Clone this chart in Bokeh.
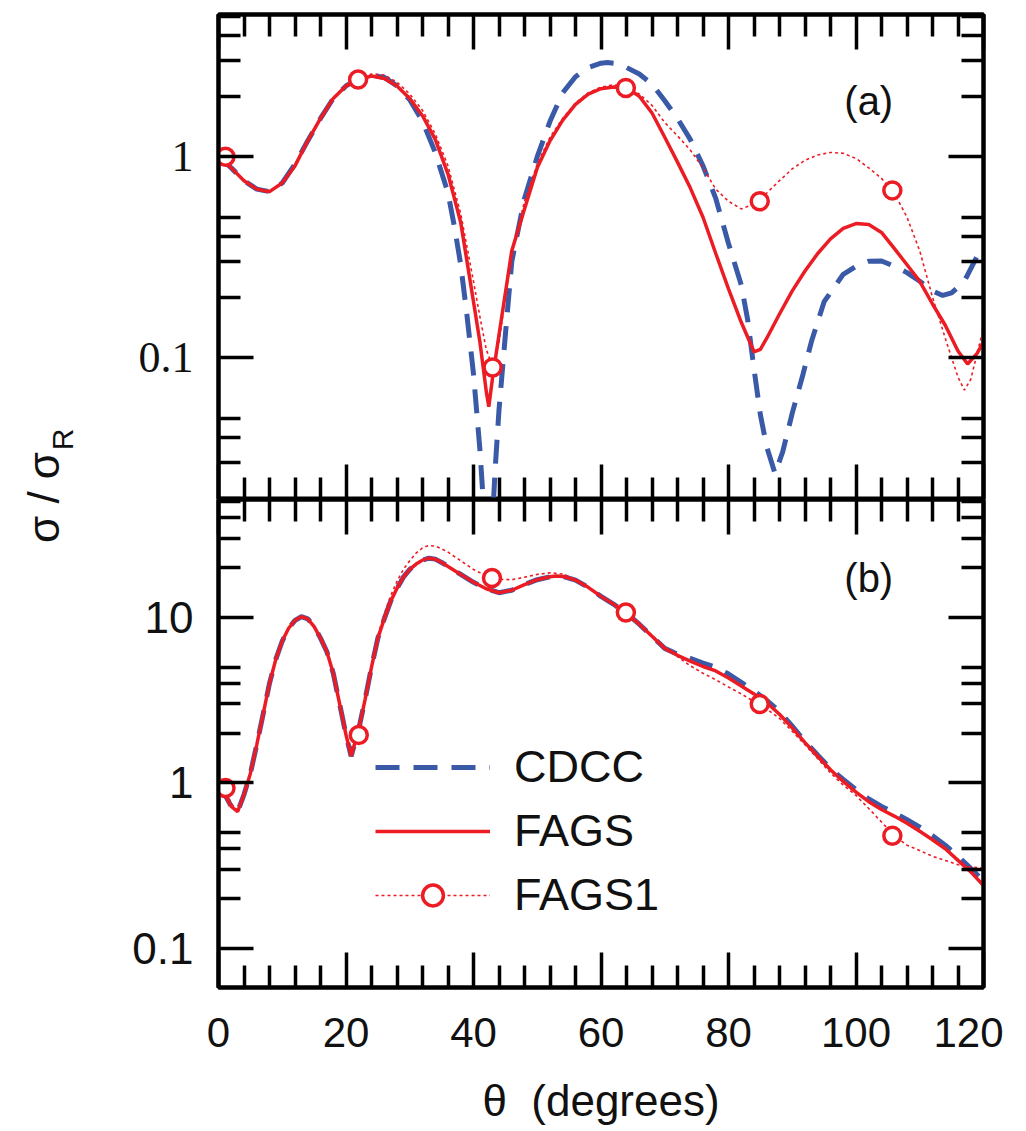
from math import pi
from bokeh.plotting import figure
from bokeh.layouts import row, column
from bokeh.models import (Range1d, LinearAxis, LogAxis, FixedTicker,
                          CustomJSTickFormatter, Label, Legend, LegendItem)
from bokeh.embed import file_html
from bokeh.resources import INLINE

# ---------------- data ----------------
x_major = [0, 20, 40, 60, 80, 100, 120]
x_minor = [4, 8, 12, 16, 24, 28, 32, 36, 44, 48, 52, 56, 64, 68, 72, 76,
           84, 88, 92, 96, 104, 108, 112, 116]
y_major = [0.01, 0.1, 1, 10, 100]
y_minor = [0.02, 0.03, 0.04, 0.05, 0.2, 0.3, 0.4, 0.5, 2, 3, 4, 5, 20, 30, 40, 50]

# panel (a)
a_cdcc_theta = [0, 2, 4, 6, 8, 10, 12, 14, 16, 18, 20, 22, 24, 26, 28, 30, 32, 34, 36,
                37, 38, 39, 40, 41, 41.6, 42.2, 42.8, 43.4, 44, 45, 46, 48, 50, 52, 54,
                56, 58, 60, 61, 62, 64, 66, 68, 70, 72, 74, 76, 78, 80, 82, 83, 84, 85,
                86, 87.3, 88.5, 90, 91.7, 93, 95, 98, 100, 102, 104, 106, 108, 110, 112,
                113.6, 115, 117, 119, 120]
a_cdcc = [1.0, 0.88, 0.76, 0.69, 0.67, 0.74, 0.92, 1.2, 1.55, 1.95, 2.25, 2.45, 2.55,
          2.48, 2.25, 1.92, 1.5, 1.05, 0.66, 0.45, 0.29, 0.16, 0.083, 0.035, 0.018,
          0.008, 0.012, 0.028, 0.055, 0.13, 0.3, 0.62, 1.0, 1.5, 2.08, 2.5, 2.78, 2.92,
          2.94, 2.92, 2.78, 2.58, 2.3, 1.9, 1.55, 1.22, 0.9, 0.62, 0.37, 0.23, 0.155,
          0.088, 0.052, 0.036, 0.0265, 0.034, 0.053, 0.083, 0.12, 0.19, 0.26, 0.285,
          0.302, 0.303, 0.285, 0.265, 0.24, 0.215, 0.204, 0.21, 0.24, 0.32, 0.35]

a_fags_theta = [0, 2, 4, 6, 8, 10, 12, 14, 16, 18, 20, 22, 24, 26, 28, 30, 32, 34, 36, 38,
                40, 41, 42, 42.4, 43, 44, 45, 46, 48, 50, 52, 54, 56, 58, 60, 62, 64, 66,
                68, 70, 72, 74, 76, 78, 80, 82, 84, 85, 86, 88, 90, 92, 94, 96, 98, 100,
                102, 104, 106, 108, 110, 112, 114, 116, 117.5, 119, 120]
a_fags = [1.0, 0.88, 0.76, 0.69, 0.67, 0.74, 0.90, 1.2, 1.55, 1.95, 2.25, 2.42, 2.52,
          2.45, 2.25, 1.95, 1.6, 1.22, 0.82, 0.47, 0.19, 0.12, 0.068, 0.057, 0.08, 0.13,
          0.21, 0.34, 0.55, 0.88, 1.2, 1.52, 1.82, 2.05, 2.18, 2.22, 2.2, 2.0, 1.65, 1.25,
          0.94, 0.70, 0.50, 0.33, 0.22, 0.15, 0.107, 0.11, 0.125, 0.165, 0.215, 0.27,
          0.33, 0.39, 0.44, 0.465, 0.46, 0.42, 0.35, 0.29, 0.24, 0.185, 0.145, 0.108,
          0.093, 0.105, 0.12]

a_fags1_theta = [0, 2, 4, 6, 8, 10, 12, 14, 16, 18, 20, 22, 24, 26, 28, 30, 32, 34, 36, 38,
                 40, 41, 42, 43, 44, 45, 46, 48, 50, 52, 54, 56, 58, 60, 62, 64, 66, 68,
                 70, 72, 74, 76, 78, 80, 82, 84, 86, 88, 90, 92, 94, 96, 98, 100, 102,
                 104, 106, 108, 110, 112, 114, 115, 116, 117, 118, 119, 120]
a_fags1 = [1.0, 0.88, 0.76, 0.69, 0.67, 0.74, 0.92, 1.2, 1.56, 1.97, 2.28, 2.45, 2.58,
           2.55, 2.35, 2.05, 1.7, 1.3, 0.9, 0.52, 0.24, 0.16, 0.11, 0.09, 0.12, 0.2, 0.33,
           0.6, 0.92, 1.25, 1.55, 1.85, 2.08, 2.22, 2.28, 2.22, 2.05, 1.8, 1.48, 1.27,
           1.08, 0.88, 0.69, 0.6, 0.55, 0.58, 0.66, 0.76, 0.87, 0.96, 1.02, 1.05, 1.04,
           0.98, 0.88, 0.78, 0.66, 0.5, 0.34, 0.2, 0.125, 0.1, 0.08, 0.069, 0.078, 0.105,
           0.14]
a_pts_theta = [1.1, 21.9, 43.0, 63.9, 84.9, 105.7]
a_pts = [1.0, 2.42, 0.0895, 2.2, 0.60, 0.68]

# panel (b)
b_theta = [0, 1, 2, 3, 4, 5, 6, 7, 8, 9, 10, 11, 12, 13, 14, 15, 16, 17, 18, 19, 20,
           20.8, 21.5, 22.2, 23, 24, 25, 26, 27, 28, 29, 30, 31, 32, 33, 34, 35, 36,
           38, 40, 42, 44, 46, 48, 50, 52, 53, 54, 56, 58, 60, 62, 64, 66, 68, 70, 72,
           74, 76, 78, 80, 82, 84, 86, 88, 90, 92, 94, 96, 98, 100, 102, 104, 106, 108,
           110, 112, 114, 116, 118, 120]
b_cdcc = [0.97, 0.85, 0.72, 0.67, 0.85, 1.14, 1.7, 2.6, 4.0, 5.6, 7.2, 8.6, 9.6, 10.1,
          9.8, 8.8, 7.5, 6.2, 4.6, 3.0, 1.95, 1.45, 1.8, 2.3, 3.2, 5.0, 7.5, 9.8, 12.5,
          15, 17.5, 19.5, 21, 22.2, 22.8, 22.5, 21.5, 20.3, 18.2, 16.3, 14.9, 14.1,
          14.6, 15.8, 16.9, 17.6, 17.8, 17.7, 16.8, 15.2, 13.4, 12.0, 10.6, 9.1, 7.7,
          6.5, 6.0, 5.65, 5.3, 5.0, 4.55, 4.05, 3.6, 3.15, 2.7, 2.2, 1.78, 1.47, 1.22,
          1.05, 0.91, 0.8, 0.72, 0.66, 0.6, 0.54, 0.48, 0.42, 0.36, 0.305, 0.255]
b_fags = [0.97, 0.85, 0.72, 0.67, 0.85, 1.14, 1.7, 2.6, 4.0, 5.6, 7.2, 8.6, 9.6, 10.1,
          9.8, 8.8, 7.5, 6.2, 4.6, 3.0, 1.95, 1.45, 1.8, 2.3, 3.2, 5.0, 7.5, 9.8, 12.5,
          15, 17.5, 19.5, 21, 22.2, 22.8, 22.5, 21.5, 20.3, 18.2, 16.3, 14.9, 14.1,
          14.6, 15.8, 16.9, 17.6, 17.8, 17.7, 16.8, 15.2, 13.4, 12.0, 10.6, 9.1, 7.7,
          6.5, 5.9, 5.45, 5.05, 4.75, 4.3, 3.85, 3.45, 3.05, 2.6, 2.15, 1.75, 1.45, 1.2,
          1.02, 0.88, 0.77, 0.69, 0.63, 0.57, 0.51, 0.453, 0.4, 0.34, 0.29, 0.24]

b_fags1_theta = [0, 1, 2, 3, 4, 5, 6, 7, 8, 9, 10, 11, 12, 13, 14, 15, 16, 17, 18, 19, 20,
                 20.8, 22, 23, 24, 25, 26, 27, 28, 29, 30, 31, 32, 33, 34, 35, 36, 38, 40,
                 42, 43, 44, 46, 48, 50, 52, 54, 56, 58, 60, 62, 64, 66, 68, 70, 72, 74,
                 76, 78, 80, 82, 84, 86, 88, 90, 92, 94, 96, 98, 100, 102, 104, 106, 108,
                 110, 112, 114, 116, 118, 120]
b_fags1 = [0.95, 0.93, 0.75, 0.68, 0.86, 1.15, 1.7, 2.6, 4.0, 5.6, 7.2, 8.6, 9.6, 10.1,
           9.8, 8.8, 7.5, 6.2, 4.6, 3.0, 1.95, 1.6, 1.95, 3.2, 5.2, 7.8, 10.5, 13.5, 16.5,
           19.5, 22, 24.5, 26.3, 27.2, 27, 26, 24.8, 22, 19.5, 17.8, 17.3, 17.0, 16.9,
           17.5, 18.2, 18.6, 18.3, 17.0, 15.2, 13.4, 12.0, 10.7, 9.2, 7.8, 6.6, 5.8, 5.1,
           4.6, 4.2, 3.8, 3.45, 3.1, 2.8, 2.45, 2.05, 1.7, 1.4, 1.15, 0.97, 0.84, 0.7,
           0.58, 0.48, 0.42, 0.39, 0.36, 0.34, 0.32, 0.31, 0.305]
b_pts_theta = [1.1, 22.0, 42.9, 63.9, 84.9, 105.7]
b_pts = [0.93, 1.95, 17.3, 10.7, 3.0, 0.48]

series_names = ["CDCC", "FAGS", "FAGS1"]
panel_tags = ["(a)", "(b)"]
x_title = "θ\u00a0\u00a0(degrees)"

# ---------------- styling ----------------
BLUE = "#3a5aa8"
RED = "#ec1c24"
SANS = "Liberation Sans"
SERIF = "Liberation Serif"


def style_axis(ax, ticker, show_labels, font=SANS, size="44px", standoff=25, fmt=None):
    ax.ticker = ticker
    ax.axis_line_color = "black"
    ax.axis_line_width = 4
    ax.major_tick_in = 35
    ax.major_tick_out = 0
    ax.minor_tick_in = 22
    ax.minor_tick_out = 0
    ax.major_tick_line_width = 3.5
    ax.minor_tick_line_width = 3.5
    ax.major_tick_line_color = "black"
    ax.minor_tick_line_color = "black"
    if show_labels:
        if fmt is not None:
            ax.formatter = fmt
        ax.major_label_text_font = font
        ax.major_label_text_font_size = size
        ax.major_label_text_color = "#111111"
        ax.major_label_standoff = standoff
    else:
        ax.formatter = CustomJSTickFormatter(code="return '';")
        ax.major_label_text_font_size = "1px"
        ax.major_label_text_alpha = 0
        ax.major_label_standoff = 0


def xt():
    return FixedTicker(ticks=x_major, minor_ticks=x_minor)


def yt():
    return FixedTicker(ticks=y_major, minor_ticks=y_minor)


def yfmt():
    return CustomJSTickFormatter(code="return String(tick);")


def make_panel(y_lo, y_hi, frame_h, top_b, bot_b, ylabel_font, show_x_labels):
    p = figure(frame_width=765, frame_height=frame_h,
               x_range=Range1d(0, 120), y_range=Range1d(y_lo, y_hi),
               y_axis_type="log", toolbar_location=None, output_backend="svg",
               min_border_left=130, min_border_right=20,
               min_border_top=top_b, min_border_bottom=bot_b)
    p.xgrid.visible = False
    p.ygrid.visible = False
    p.outline_line_color = "black"
    p.outline_line_width = 4
    p.background_fill_color = "white"
    p.border_fill_color = "white"
    style_axis(p.below[0], xt(), show_x_labels, font=SANS, size="42px", standoff=30)
    style_axis(p.left[0], yt(), True, font=ylabel_font, size="44px", standoff=25,
               fmt=yfmt())
    top_ax = LinearAxis()
    style_axis(top_ax, xt(), False)
    p.add_layout(top_ax, "above")
    right_ax = LogAxis()
    style_axis(right_ax, yt(), False)
    p.add_layout(right_ax, "right")
    return p


def draw(p, c_t, c_v, f_t, f_v, f1_t, f1_v, pt_t, pt_v):
    rc = p.line(c_t, c_v, line_color=BLUE, line_width=5, line_dash="24 14")
    rf = p.line(f_t, f_v, line_color=RED, line_width=3.5)
    rf1 = p.line(f1_t, f1_v, line_color=RED, line_width=1.6, line_dash="3 3")
    rp = p.scatter(pt_t, pt_v, marker="circle", size=17, fill_color="white",
                   line_color=RED, line_width=3.5)
    return rc, rf, rf1, rp


# panel (a)
pa = make_panel(0.0197, 5.1, 485, 14, 0, SERIF, False)
draw(pa, a_cdcc_theta, a_cdcc, a_fags_theta, a_fags, a_fags1_theta, a_fags1,
     a_pts_theta, a_pts)
pa.add_layout(Label(x=102, y=1.9, text=panel_tags[0], text_align="center",
                    text_baseline="middle", text_font=SANS, text_font_size="40px",
                    text_color="#111111"))

# panel (b)
pb = make_panel(0.058, 51.6, 488, 0, 136, SANS, True)
rc, rf, rf1, rp = draw(pb, b_theta, b_cdcc, b_theta, b_fags, b_fags1_theta, b_fags1,
                       b_pts_theta, b_pts)
pb.add_layout(Label(x=102, y=17.3, text=panel_tags[1], text_align="center",
                    text_baseline="middle", text_font=SANS, text_font_size="40px",
                    text_color="#111111"))
xb = pb.below[0]
xb.axis_label = x_title
xb.axis_label_text_font = SANS
xb.axis_label_text_font_size = "44px"
xb.axis_label_text_font_style = "normal"
xb.axis_label_text_color = "#111111"
xb.axis_label_standoff = 26

legend = Legend(items=[LegendItem(label=series_names[0], renderers=[rc]),
                       LegendItem(label=series_names[1], renderers=[rf]),
                       LegendItem(label=series_names[2], renderers=[rf1, rp])],
                location=(157, 66), padding=0, margin=0, spacing=12,
                glyph_width=115, glyph_height=52, label_height=52,
                label_standoff=24, label_text_font=SANS, label_text_font_size="45px",
                label_text_color="#111111", border_line_color=None,
                background_fill_alpha=0)
pb.add_layout(legend)

# y-axis title in its own narrow canvas spanning both panels
total_h = 499 + 624
lab = figure(width=88, height=total_h, x_range=Range1d(0, 88),
             y_range=Range1d(total_h, 0), toolbar_location=None,
             output_backend="svg", min_border=0)
lab.axis.visible = False
lab.grid.visible = False
lab.outline_line_color = None
lab.add_layout(Label(x=43, y=497, text="σ / σ", angle=pi / 2, text_align="center",
                     text_baseline="middle", text_font=SANS, text_font_size="44px",
                     text_color="#111111"))
lab.add_layout(Label(x=62, y=439, text="R", angle=pi / 2, text_align="center",
                     text_baseline="middle", text_font=SANS, text_font_size="30px",
                     text_color="#111111"))

layout = row(lab, column(pa, pb))
open("out.html", "w").write(file_html(layout, INLINE))
